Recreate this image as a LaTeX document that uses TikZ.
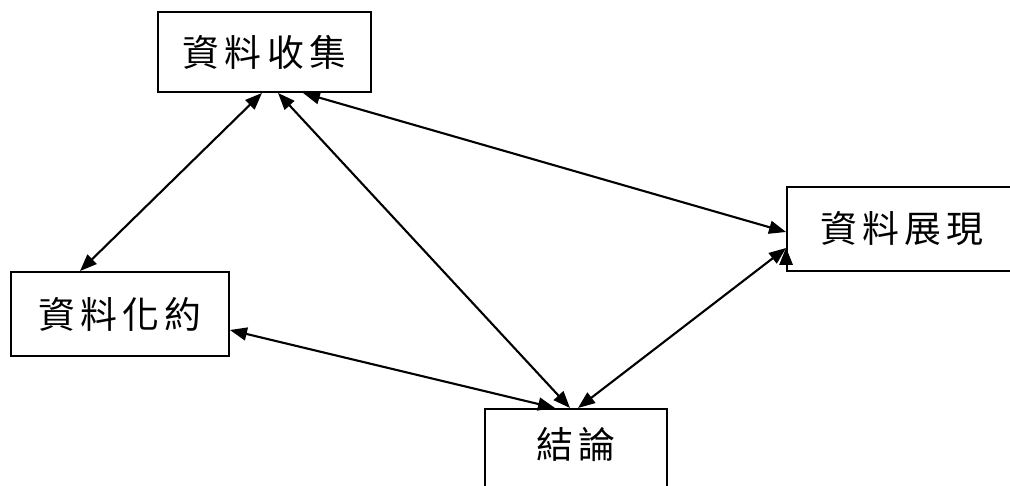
\documentclass[tikz,border=0pt]{standalone}
\usepackage{fontspec}
\newfontfamily\cjk{Noto Sans CJK TC}[LetterSpace=14]
\usepackage{tikz}
\usetikzlibrary{arrows.meta, positioning}
\tikzset{
>={Triangle[length=0.34cm, width=0.26cm]}, % filled triangle heads
every node/.style={font=\cjk\fontsize{21pt}{24pt}\selectfont}, % text of the boxes
box/.style={draw, rectangle, inner sep=0pt, line width=1.1pt}, % the boxes
link/.style={<->, line width=1.2pt}, % the two-way connectors
}
\begin{document}
\begin{tikzpicture}[x=0.02cm, y=-0.02cm]
                \useasboundingbox (0,0) rectangle (1010,486);
                \clip (0,0) rectangle (1010,486);
                \node[box, minimum width=4.26cm, minimum height=1.6cm] (coll) at (264.5,52) {資料收集};
                \node[box, minimum width=4.36cm, minimum height=1.68cm] (red) at (120,314) {資料化約};
                \node[box, minimum width=4.6cm, minimum height=1.68cm] (disp) at (902,229) {資料展現};
                \node[box, minimum width=3.64cm, text height=0.99cm, text depth=0.8cm, anchor=north] (concl) at (576,408) {結論};
                \draw[link]
                    ([xshift=-0.05cm]coll.south) edge ([xshift=-0.8cm]red.north)
                    ([xshift=0.27cm]coll.south) edge ([xshift=-0.12cm]concl.north)
                    ([xshift=0.77cm]coll.south) edge ([yshift=-0.06cm]disp.west)
                    ([yshift=-0.32cm]red.east) edge ([xshift=-0.42cm]concl.north)
                    ([yshift=-0.38cm]disp.west) edge ([xshift=0.04cm]concl.north)
                    ;
                \end{tikzpicture}
\end{document}
